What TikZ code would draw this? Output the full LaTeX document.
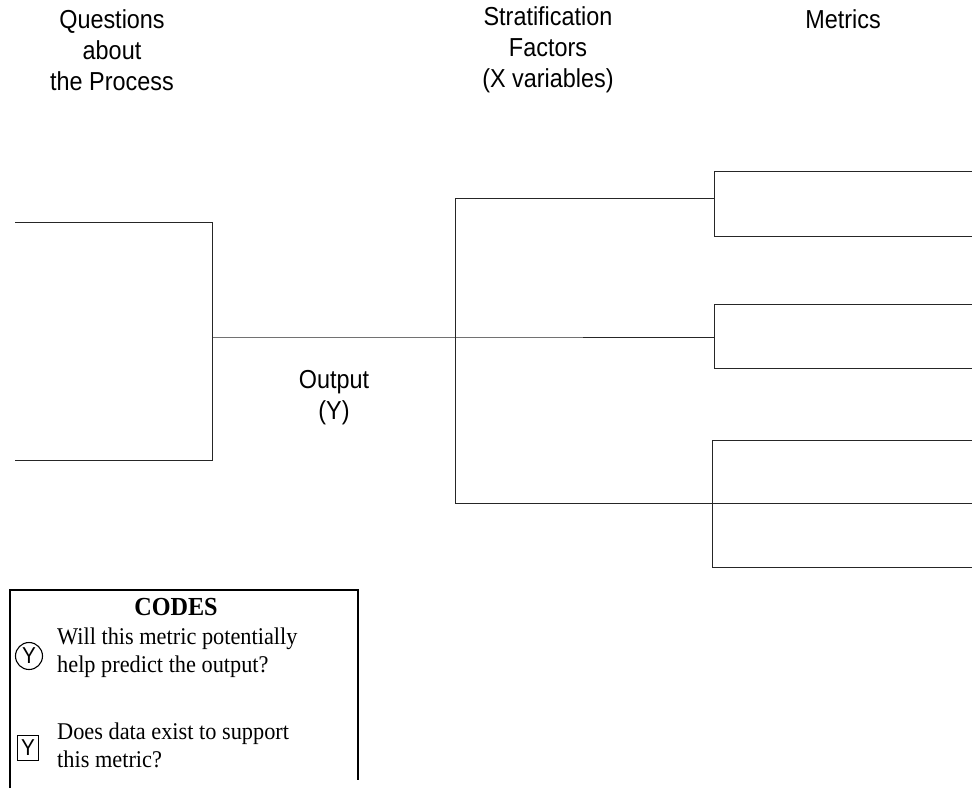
\documentclass[tikz,border=0pt]{standalone}
\usepackage{fontspec}
\setmainfont{Liberation Serif}[FakeStretch=0.93]
\newfontfamily\headfont{Liberation Sans}[FakeStretch=0.9]
\newfontfamily\markfont{Liberation Sans}[FakeStretch=0.9]
\begin{document}
\begin{tikzpicture}[x=1pt,y=-1pt,
  rule/.style={draw=black!85,line width=0.9pt},
  head/.style={font=\headfont\fontsize{26}{31}\selectfont,align=center,inner sep=0pt},
  codetxt/.style={font=\fontsize{24}{28}\selectfont,align=left,anchor=west,inner sep=0pt},
  codemark/.style={draw=black,line width=1.1pt,font=\markfont\fontsize{23}{23}\selectfont,inner sep=0pt}]
\useasboundingbox (0,0) rectangle (972,788);
% headings
\node[head] (q) at (112,50) {Questions\\about\\the Process};
\node[head] (s) at (548,50) {Stratification\\Factors\\(X variables)};
\node[head] (m) at (843,19) {Metrics};
\node[head] (out) at (334,398) {Output\\(Y)};
% left bracket
\coordinate (l1) at (15,222);
\coordinate (l2) at (212,222);
\coordinate (l3) at (212,460);
\coordinate (l4) at (15,460);
\coordinate (lm) at (212,337);
\draw[rule] (l1) -- (l2) -- (l3) -- (l4);
% middle bracket
\coordinate (m1) at (455,198);
\coordinate (mm) at (455,337);
\coordinate (m3) at (455,503);
\coordinate (a0) at (714,198);
\coordinate (b0) at (714,337);
\coordinate (c0) at (712,503);
\draw[rule] (lm) -- (mm) -- (b0);
\draw[rule] (a0) -- (m1) -- (m3) -- (c0);
% right brackets
\coordinate (a1) at (714,171);
\coordinate (a2) at (714,236);
\coordinate (a1e) at (972,171);
\coordinate (a2e) at (972,236);
\draw[rule] (a1e) -- (a1) -- (a2) -- (a2e);
\coordinate (b1) at (714,304);
\coordinate (b2) at (714,368);
\coordinate (b1e) at (972,304);
\coordinate (b2e) at (972,368);
\draw[rule] (b1e) -- (b1) -- (b2) -- (b2e);
\coordinate (c1) at (712,440);
\coordinate (c3) at (712,567);
\coordinate (c1e) at (972,440);
\coordinate (c2e) at (972,503);
\coordinate (c3e) at (972,567);
\draw[rule] (c1e) -- (c1) -- (c3) -- (c3e);
\draw[rule] (c0) -- (c2e);
% codes box
\coordinate (k1) at (10,788);
\coordinate (k2) at (10,590);
\coordinate (k3) at (358,590);
\coordinate (k4) at (358,780);
\draw[draw=black,line width=1.2pt] (k1) -- (k2) -- (k3) -- (k4);
\node[font=\bfseries\fontsize{26}{26}\selectfont,inner sep=0pt] (codes) at (176,607) {CODES};
\node[codemark,circle,minimum size=27pt] (cy) at (29,656) {Y};
\node[codetxt] (ct) at (57,653) {Will this metric potentially\\help predict the output?};
\node[codemark,rectangle,minimum width=21pt,minimum height=25pt] (sy) at (28,748) {Y};
\node[codetxt] (st) at (57,745) {Does data exist to support\\this metric?};
\end{tikzpicture}
\end{document}
